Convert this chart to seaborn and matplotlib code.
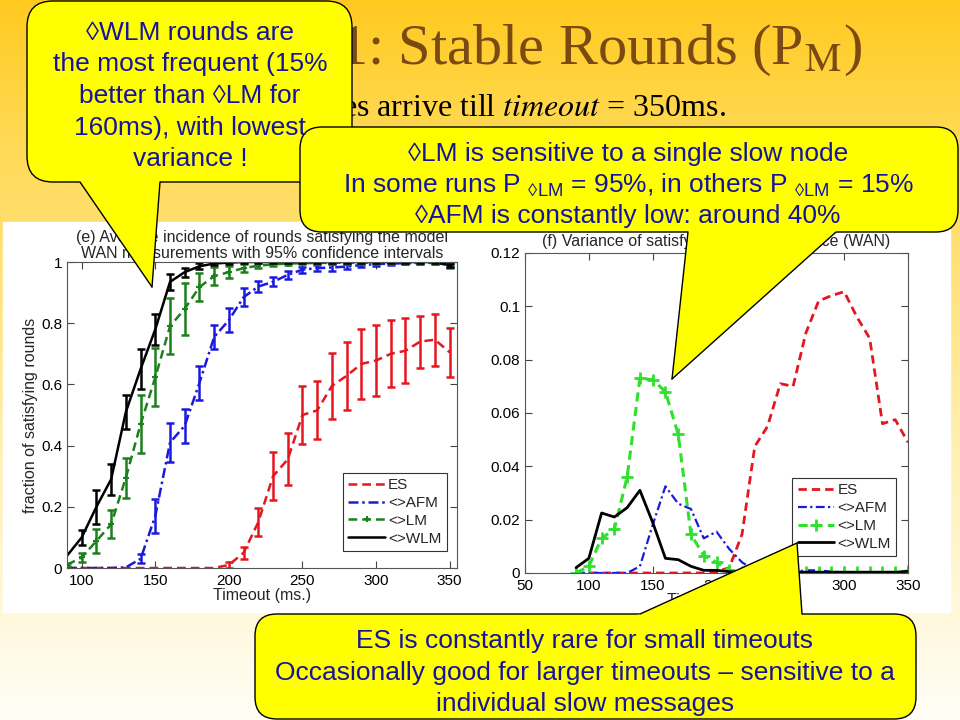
import numpy as np
import pandas as pd
import matplotlib
matplotlib.use('Agg')
import matplotlib.pyplot as plt
import seaborn as sns
from matplotlib import font_manager
from matplotlib.patches import FancyBboxPatch, Polygon, Rectangle
from matplotlib.ticker import FuncFormatter

# ---- data ----
timeout = [90, 100, 110, 120, 130, 140, 150, 160, 170, 180, 190, 200, 210, 220,
           230, 240, 250, 260, 270, 280, 290, 300, 310, 320, 330, 340, 350]

# (e) average fraction of satisfying rounds + 95% CI half widths
es_mean = [0, 0, 0, 0, 0, 0, 0, 0, 0, 0, 0, 0.01, 0.05, 0.15,
           0.30, 0.355, 0.50, 0.515, 0.595, 0.628, 0.667, 0.678, 0.70, 0.71, 0.74, 0.746, 0.705]
es_ci = [0, 0, 0, 0, 0, 0, 0, 0, 0, 0, 0, 0.01, 0.02, 0.045,
         0.078, 0.085, 0.095, 0.095, 0.108, 0.112, 0.115, 0.115, 0.11, 0.107, 0.085, 0.085, 0.08]
afm_mean = [0, 0, 0, 0, 0.002, 0.03, 0.17, 0.41, 0.465, 0.605, 0.755, 0.81, 0.885, 0.92,
            0.935, 0.958, 0.975, 0.98, 0.982, 0.985, 0.99, 0.993, 0.995, 0.996, 0.997, 0.997, 0.99]
afm_ci = [0, 0, 0, 0, 0, 0.015, 0.055, 0.065, 0.055, 0.055, 0.04, 0.04, 0.03, 0.017,
          0.015, 0.012, 0.01, 0.01, 0.01, 0.008, 0.006, 0.005, 0.004, 0.004, 0.004, 0.004, 0.006]
lm_mean = [0.01, 0.035, 0.088, 0.143, 0.295, 0.47, 0.623, 0.79, 0.847, 0.918, 0.954, 0.967, 0.98, 0.988,
           0.992, 0.995, 0.996, 0.997, 0.997, 0.998, 0.998, 0.998, 0.998, 0.998, 0.998, 0.998, 0.99]
lm_ci = [0.005, 0.015, 0.04, 0.046, 0.065, 0.095, 0.095, 0.092, 0.085, 0.045, 0.03, 0.02, 0.012, 0.008,
         0.005, 0.004, 0.003, 0.003, 0.003, 0.003, 0.003, 0.003, 0.003, 0.003, 0.003, 0.003, 0.008]
wlm_mean = [0.04, 0.10, 0.20, 0.29, 0.51, 0.65, 0.78, 0.935, 0.967, 0.986, 0.995, 0.998, 1.0, 1.0,
            1.0, 1.0, 1.0, 1.0, 1.0, 1.0, 1.0, 1.0, 1.0, 1.0, 1.0, 1.0, 0.99]
wlm_ci = [0, 0.025, 0.055, 0.05, 0.055, 0.065, 0.05, 0.025, 0.015, 0.01, 0.006, 0.004, 0.003, 0.002,
          0.002, 0.002, 0.002, 0.002, 0.002, 0.002, 0.002, 0.002, 0.002, 0.002, 0.002, 0.002, 0.005]

# (f) variance
es_var = [0, 0, 0, 0, 0, 0, 0, 0, 0, 0, 0, 0.0005, 0.002, 0.0145,
          0.0475, 0.055, 0.071, 0.070, 0.090, 0.102, 0.104, 0.1055, 0.096, 0.088, 0.056, 0.0575, 0.049]
afm_var = [0, 0, 0, 0, 0, 0.0025, 0.018, 0.0325, 0.026, 0.024, 0.013, 0.0155, 0.009, 0.004,
           0.001, 0.0005, 0.0005, 0.0005, 0.001, 0.001, 0.0005, 0.0003, 0.0003, 0.0003, 0.0003, 0.0003, 0.0003]
lm_var = [0, 0.0025, 0.013, 0.0165, 0.036, 0.073, 0.0725, 0.068, 0.052, 0.0145, 0.0065, 0.004, 0.001, 0.0002,
          0.0002, 0.0002, 0.0002, 0.0002, 0.0002, 0.0002, 0.0002, 0.0002, 0.0002, 0.0002, 0.0002, 0.0002, 0.0008]
wlm_var = [0.002, 0.0055, 0.0225, 0.021, 0.0245, 0.031, 0.019, 0.0055, 0.005, 0.0025, 0.001, 0.001, 0.0005, 0.0003,
           0.0003, 0.0003, 0.0003, 0.0003, 0.0003, 0.0003, 0.0003, 0.0003, 0.0003, 0.0003, 0.0003, 0.0003, 0.0006]

series_labels = ['ES', '<>AFM', '<>LM', '<>WLM']

# ---- fonts ----
sns.set_style('ticks')
names = {f.name for f in font_manager.fontManager.ttflist}
narrow = 'Liberation Sans Narrow' if 'Liberation Sans Narrow' in names else 'Liberation Sans'
call_fs = 22 if narrow == 'Liberation Sans Narrow' else 19
plt.rcParams['font.family'] = ['Liberation Sans', 'DejaVu Sans']
plt.rcParams['mathtext.fontset'] = 'custom'
plt.rcParams['mathtext.rm'] = narrow
plt.rcParams['mathtext.it'] = narrow + ':italic'

fig = plt.figure(figsize=(9.6, 7.2), dpi=100)

# ---- slide background ----
bg = fig.add_axes([0, 0, 1, 1])
bg.set_zorder(-5)
stops_y = [0, 130, 220, 450, 720]
stops_c = np.array([[1.0, 0.79, 0.12], [1.0, 0.85, 0.32], [1.0, 0.87, 0.42],
                    [1.0, 0.94, 0.70], [1.0, 0.995, 0.97]])
yy = np.arange(720)
grad = np.stack([np.interp(yy, stops_y, stops_c[:, k]) for k in range(3)], axis=1)
grad = np.repeat(grad[:, None, :], 4, axis=1)
bg.imshow(grad, aspect='auto', extent=[0, 960, 720, 0])
bg.add_patch(Rectangle((3, 222), 947, 390, color='white'))
bg.set_xlim(0, 960)
bg.set_ylim(720, 0)
bg.axis('off')

fmt = FuncFormatter(lambda v, p: f'{v:g}')


def style_axes(ax):
    ax.tick_params(direction='in', top=True, right=True, length=5, width=0.8,
                   colors='#444444', labelcolor='black', labelsize=11)
    ax.tick_params(axis='x', pad=4)
    for s in ax.spines.values():
        s.set_visible(True)
        s.set_color('#555555')
        s.set_linewidth(0.8)
    ax.yaxis.set_major_formatter(fmt)
    ax.xaxis.set_major_formatter(fmt)


# ---- (e) average incidence ----
ax1 = fig.add_axes([67 / 960, 1 - 568 / 720, 390 / 960, 306 / 720])
ax1.set_facecolor('white')
c_es, c_afm, c_lm, c_wlm = '#E5161E', '#1A1ADF', '#1C801C', 'black'
sns.lineplot(x=timeout, y=es_mean, ax=ax1, color=c_es, lw=1.8, linestyle=(0, (3.5, 2)), label=series_labels[0])
sns.lineplot(x=timeout, y=afm_mean, ax=ax1, color=c_afm, lw=1.8, linestyle=(0, (4, 1.5, 1, 1.5)), label=series_labels[1])
sns.lineplot(x=timeout, y=lm_mean, ax=ax1, color=c_lm, lw=1.8, linestyle=(0, (3.5, 2)), marker='+',
             markersize=5, markeredgewidth=1.5, markeredgecolor=c_lm, label=series_labels[2])
sns.lineplot(x=timeout, y=wlm_mean, ax=ax1, color=c_wlm, lw=1.8, label=series_labels[3])

for m, ci, c in [(es_mean, es_ci, c_es), (afm_mean, afm_ci, c_afm), (lm_mean, lm_ci, c_lm), (wlm_mean, wlm_ci, c_wlm)]:
    d = pd.DataFrame({'t': timeout, 'm': m, 'ci': ci})
    d = d[d['ci'] > 0]
    ax1.errorbar(d['t'], d['m'], yerr=d['ci'], fmt='none', ecolor=c, elinewidth=1.8,
                 capsize=3, capthick=1.8, label='_nolegend_')

ax1.set_xlim(90, 355)
ax1.set_ylim(0, 1)
ax1.set_xticks([100, 150, 200, 250, 300, 350])
ax1.set_yticks([0, 0.2, 0.4, 0.6, 0.8, 1])
style_axes(ax1)
ax1.set_xlabel('Timeout (ms.)', fontsize=11.5, labelpad=0)
ax1.set_ylabel('fraction of satisfying rounds', fontsize=11.5, labelpad=2)
ax1.set_title('(e) Average incidence of rounds satisfying the model\nWAN measurements with 95% confidence intervals',
              fontsize=11.5, pad=3, linespacing=1.05)
leg = ax1.legend(loc='lower right', bbox_to_anchor=(0.974, 0.056), borderaxespad=0, fontsize=11,
                 frameon=True, fancybox=False, framealpha=1, edgecolor='#333333',
                 handlelength=2.4, handletextpad=0.2, labelspacing=0.25, borderpad=0.35)
leg.get_frame().set_linewidth(0.8)

# ---- (f) variance ----
ax2 = fig.add_axes([525 / 960, 1 - 573 / 720, 383 / 960, 320 / 720])
ax2.set_facecolor('white')
c_lm2 = '#2FE02F'
sns.lineplot(x=timeout, y=es_var, ax=ax2, color=c_es, lw=2, linestyle=(0, (3, 1.8)), label=series_labels[0])
sns.lineplot(x=timeout, y=afm_var, ax=ax2, color=c_afm, lw=1.6, linestyle=(0, (4, 1.5, 1, 1.5)), label=series_labels[1])
sns.lineplot(x=timeout, y=lm_var, ax=ax2, color=c_lm2, lw=2.2, linestyle=(0, (3, 1.8)), marker='+',
             markersize=8, markeredgewidth=2, markeredgecolor=c_lm2, label=series_labels[2])
sns.lineplot(x=timeout, y=wlm_var, ax=ax2, color=c_wlm, lw=2, label=series_labels[3])
ax2.set_xlim(50, 350)
ax2.set_ylim(0, 0.12)
ax2.set_xticks([50, 100, 150, 200, 250, 300, 350])
ax2.set_yticks([0, 0.02, 0.04, 0.06, 0.08, 0.1, 0.12])
style_axes(ax2)
ax2.set_xlabel('Timeout (ms.)', fontsize=11.5, labelpad=0)
ax2.set_ylabel('')
ax2.set_title('(f) Variance of satisfying rounds incidence (WAN)', fontsize=11.5, pad=5)
leg2 = ax2.legend(loc='lower right', bbox_to_anchor=(0.969, 0.053), borderaxespad=0, fontsize=11,
                  frameon=True, fancybox=False, framealpha=1, edgecolor='#333333',
                  handlelength=2.4, handletextpad=0.2, labelspacing=0.25, borderpad=0.35)
leg2.get_frame().set_linewidth(0.8)

# ---- overlay: slide title and callouts (pixel coordinates) ----
ov = fig.add_axes([0, 0, 1, 1])
ov.set_zorder(10)
ov.set_xlim(0, 960)
ov.set_ylim(720, 0)
ov.axis('off')
ov.patch.set_alpha(0)

ov.text(338, 64, '1: Stable Rounds (P$_{\\mathrm{M}}$)', fontsize=42, color='#7A4A12',
        family=['Liberation Serif'], math_fontfamily='stix', ha='left', va='baseline', zorder=1)
ov.text(342, 116, 'es arrive till $\\mathit{timeout}$ = 350ms.', fontsize=23, color='black',
        family=['Liberation Serif'], math_fontfamily='stix', ha='left', va='baseline', zorder=1)

yellow = '#FFFF00'
txt_col = '#14149C'
call_family = [narrow, 'Liberation Sans', 'DejaVu Sans']


def callout(box, base, tip, lines, ys, cx, radius=22):
    x0, y0, x1, y1 = box
    ov.add_patch(FancyBboxPatch((x0, y0), x1 - x0, y1 - y0,
                                boxstyle=f'round,pad=0,rounding_size={radius}',
                                fc=yellow, ec='black', lw=1.0, zorder=5))
    pts = []
    for b in base:
        v = np.array(b, float) - np.array(tip, float)
        ext = np.array(b, float) + v * (4.0 / abs(v[1]))
        pts.append(ext)
    ov.add_patch(Polygon([pts[0], pts[1], tip], closed=True, fc=yellow, ec='none', zorder=6))
    for b in base:
        ov.plot([b[0], tip[0]], [b[1], tip[1]], color='black', lw=1.0, zorder=7)
    for s, y in zip(lines, ys):
        ov.text(cx, y, s, fontsize=call_fs, color=txt_col, family=call_family,
                ha='center', va='center', zorder=8)


callout((27, 1, 352, 182), [(80, 182), (160, 182)], (152, 287),
        ['◊WLM rounds are', 'the most frequent (15%', 'better than ◊LM for',
         '160ms), with lowest', 'variance !'],
        [33, 64, 96, 128, 159], 190, radius=26)
callout((300, 127, 958, 232), [(688, 232), (836, 232)], (672, 379),
        ['◊LM is sensitive to a single slow node',
         'In some runs P $_{\\mathrm{◊LM}}$ = 95%, in others P $_{\\mathrm{◊LM}}$ = 15%',
         '◊AFM is constantly low: around 40%'],
        [154, 185, 216], 628)
callout((255, 614, 916, 719), [(640, 614), (802, 614)], (797, 543),
        ['ES is constantly rare for small timeouts',
         'Occasionally good for larger timeouts – sensitive to a',
         'individual slow messages'],
        [641, 673, 704], 585)

fig.savefig('out.png', dpi=100)
